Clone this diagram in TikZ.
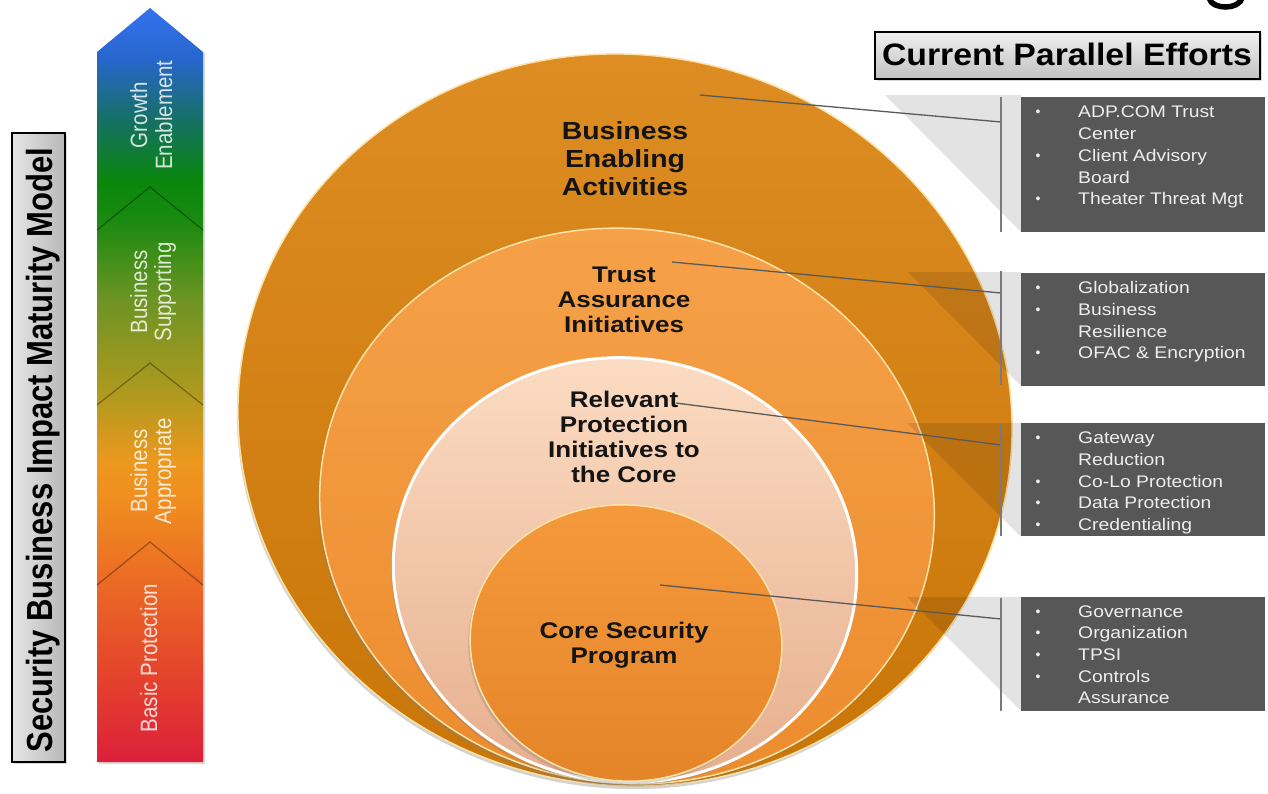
\documentclass[tikz,border=0pt]{standalone}
\usepackage{fontspec}
\setmainfont{Liberation Sans}
\usetikzlibrary{shadows}
\definecolor{ar1}{HTML}{DC1F3B}
\definecolor{ar2}{HTML}{E2392F}
\definecolor{ar3}{HTML}{EA6226}
\definecolor{ar4}{HTML}{F08E1F}
\definecolor{ar5}{HTML}{EC981E}
\definecolor{ar6}{HTML}{B49A1E}
\definecolor{ar7}{HTML}{6E9424}
\definecolor{ar8}{HTML}{1A8A10}
\definecolor{ar9}{HTML}{0A870C}
\definecolor{ar10}{HTML}{157064}
\definecolor{ar11}{HTML}{2866CC}
\definecolor{ar12}{HTML}{3472F0}
\definecolor{c1t}{HTML}{DE8E24}
\definecolor{c1b}{HTML}{C87406}
\definecolor{c2t}{HTML}{F6A24A}
\definecolor{c2b}{HTML}{EB8B2C}
\definecolor{c3t}{HTML}{FCDDC4}
\definecolor{c3b}{HTML}{E6AD8C}
\definecolor{c4t}{HTML}{F59A3C}
\definecolor{c4b}{HTML}{E48428}
\definecolor{rimy}{HTML}{FBE3A8}
\definecolor{boxfill}{HTML}{575757}
\definecolor{boxtext}{HTML}{EEEEEE}
\definecolor{connc}{HTML}{5A5A5A}
\definecolor{brkc}{HTML}{7A7A7A}
\pgfdeclareverticalshading{arrowshade}{100bp}{color(0bp)=(ar1); color(25bp)=(ar1); color(29.1bp)=(ar2); color(35.7bp)=(ar3); color(42.4bp)=(ar4); color(45bp)=(ar5); color(49bp)=(ar6); color(55.6bp)=(ar7); color(60.9bp)=(ar8); color(63.5bp)=(ar9); color(67.6bp)=(ar10); color(71.6bp)=(ar11); color(75bp)=(ar12); color(100bp)=(ar12)}
\begin{document}
\begin{tikzpicture}[x=1pt,y=-1pt,
  circA/.style={top color=c1t, bottom color=c1b, draw=rimy, line width=1.5pt,
    drop shadow={shadow xshift=-1pt, shadow yshift=-3pt, opacity=.35}},
  circB/.style={top color=c2t, bottom color=c2b, draw=rimy, line width=1.5pt,
    drop shadow={shadow xshift=-2pt, shadow yshift=-3pt, opacity=.3}},
  circC/.style={top color=c3t, bottom color=c3b, draw=white, line width=3pt,
    drop shadow={shadow xshift=-2pt, shadow yshift=-3pt, opacity=.3}},
  circD/.style={top color=c4t, bottom color=c4b, draw=rimy, line width=1.5pt,
    drop shadow={shadow xshift=-2pt, shadow yshift=-3pt, opacity=.3}},
  wedge/.style={fill=black, fill opacity=.11},
  conn/.style={draw=connc, line width=1.3pt},
  brk/.style={draw=brkc, line width=1.6pt},
  darkbox/.style={fill=boxfill, draw=none, anchor=north west, inner sep=0pt, outer sep=0pt},
  btx/.style={anchor=base west, font=\fontsize{16.8}{20}\selectfont, text=boxtext, inner sep=0pt, xscale=1.15},
  bul/.style={anchor=base, font=\fontsize{14}{14}\selectfont, text=boxtext, inner sep=0pt},
  ctA/.style={anchor=base, font=\bfseries\fontsize{24.7}{28}\selectfont, text=black!92, inner sep=0pt, xscale=1.15},
  ctB/.style={anchor=base, font=\bfseries\fontsize{22.6}{25}\selectfont, text=black!92, inner sep=0pt, xscale=1.15},
  arrtxt/.style={anchor=base, rotate=90, yscale=1.15, font=\fontsize{20.5}{24}\selectfont, text=white, text opacity=.82, inner sep=0pt},
  chev/.style={draw=black, draw opacity=.35, line width=1.2pt},
  sidebox/.style={draw=black, line width=1.5pt, left color=black!10, right color=black!28, inner sep=0pt,
    drop shadow={shadow xshift=2pt, shadow yshift=-2pt, opacity=.3}},
  sidetxt/.style={anchor=base, rotate=90, yscale=1.17, font=\bfseries\fontsize{31}{34}\selectfont, text=black, inner sep=0pt},
  titlebox/.style={draw=black, line width=1.5pt, top color=black!6, bottom color=black!24, inner sep=0pt,
    drop shadow={shadow xshift=2pt, shadow yshift=-2pt, opacity=.3}},
  titletxt/.style={anchor=base, font=\bfseries\fontsize{31}{34}\selectfont, text=black, inner sep=0pt, xscale=1.09}
]
\useasboundingbox (0,0) rectangle (1268,793);
\clip (0,0) rectangle (1268,793);
\fill[white] (0,0) rectangle (1268,793);

% cropped letter stroke at top right
\draw[line width=5.5pt, line cap=butt] (1209.5,-1) .. controls (1212,9) and (1239,11) .. (1242.5,-3);

% maturity arrow
\shade[shading=arrowshade, drop shadow={shadow xshift=2pt, shadow yshift=-2pt, opacity=.3}]
  (97,52) -- (150,8) -- (203,52) -- (203,762) -- (97,762) -- cycle;
\draw[chev] (97,230) -- (150,187) -- (203,230);
\draw[chev] (97,405) -- (150,363) -- (203,405);
\draw[chev] (97,585) -- (150,542) -- (203,585);
\node[arrtxt] (lg1) at (147,115) {Growth};
\node[arrtxt] (lg2) at (172,115) {Enablement};
\node[arrtxt] (ls1) at (147,292) {Business};
\node[arrtxt] (ls2) at (171,292) {Supporting};
\node[arrtxt] (la1) at (147,471) {Business};
\node[arrtxt] (la2) at (171,471) {Appropriate};
\node[arrtxt] (lb1) at (157,658) {Basic Protection};

% side label
\node[sidebox, minimum width=53pt, minimum height=629pt] (sbox) at (38.5,447.5) {};
\node[sidetxt] (stxt) at (52,450) {Security Business Impact Maturity Model};

% title
\node[titlebox, minimum width=385pt, minimum height=47pt] (tbox) at (1067.5,55.5) {};
\node[titletxt] (ttxt) at (1067,65) {Current Parallel Efforts};

% circles
\path[circA, rotate around={-12:(625,420)}] (625,420) ellipse [x radius=388, y radius=365];
\path[circB, rotate around={-9:(627,506)}] (627,506) ellipse [x radius=308, y radius=277];
\path[circC, rotate around={-7:(625,570)}] (625,570) ellipse [x radius=232, y radius=212];
\path[circD, rotate around={-5:(626,643)}] (626,643) ellipse [x radius=156, y radius=138];

% shadow wedges
\fill[wedge] (885,95) -- (1021,95) -- (1021,232) -- cycle;
\fill[wedge] (908,272) -- (1021,272) -- (1021,386) -- cycle;
\fill[wedge] (907,423) -- (1021,423) -- (1021,537) -- cycle;
\fill[wedge] (907,597) -- (1021,597) -- (1021,711) -- cycle;

% circle labels
\node[ctA] (e1) at (625,139) {Business};
\node[ctA] (e2) at (625,167) {Enabling};
\node[ctA] (e3) at (625,195) {Activities};
\node[ctB] (r1) at (624,282) {Trust};
\node[ctB] (r2) at (624,307) {Assurance};
\node[ctB] (r3) at (624,332) {Initiatives};
\node[ctB] (p1) at (624,407) {Relevant};
\node[ctB] (p2) at (624,432) {Protection};
\node[ctB] (p3) at (624,457) {Initiatives to};
\node[ctB] (p4) at (624,482) {the Core};
\node[ctB] (k1) at (624,638) {Core Security};
\node[ctB] (k2) at (624,663) {Program};

% connectors and brackets
\coordinate (c1a) at (700,95);  \coordinate (c1b) at (1001,122);
\coordinate (c2a) at (672,262); \coordinate (c2b) at (1001,293);
\coordinate (c3a) at (676,403); \coordinate (c3b) at (1001,445);
\coordinate (c4a) at (660,585); \coordinate (c4b) at (1001,619);
\draw[conn] (c1a) -- (c1b);
\draw[conn] (c2a) -- (c2b);
\draw[conn] (c3a) -- (c3b);
\draw[conn] (c4a) -- (c4b);
\coordinate (k1t) at (1001,97);  \coordinate (k1b) at (1001,232);
\coordinate (k2t) at (1001,271); \coordinate (k2b) at (1001,385);
\coordinate (k3t) at (1001,424); \coordinate (k3b) at (1001,536);
\coordinate (k4t) at (1001,598); \coordinate (k4b) at (1001,711);
\draw[brk] (k1t) -- (k1b);
\draw[brk] (k2t) -- (k2b);
\draw[brk] (k3t) -- (k3b);
\draw[brk] (k4t) -- (k4b);

% dark boxes
\node[darkbox, minimum width=244pt, minimum height=135pt] (box1) at (1021,97) {};
\node[darkbox, minimum width=244pt, minimum height=113pt] (box2) at (1021,273) {};
\node[darkbox, minimum width=244pt, minimum height=113pt] (box3) at (1021,423) {};
\node[darkbox, minimum width=244pt, minimum height=114pt] (box4) at (1021,597) {};

% box 1
\node[bul] (u1a) at (1038,116) {•};
\node[btx] (t1a) at (1078,117) {ADP.COM Trust};
\node[btx] (t1b) at (1078,139) {Center};
\node[bul] (u1c) at (1038,160) {•};
\node[btx] (t1c) at (1078,161) {Client Advisory};
\node[btx] (t1d) at (1078,183) {Board};
\node[bul] (u1e) at (1038,203) {•};
\node[btx] (t1e) at (1078,204) {Theater Threat Mgt};
% box 2
\node[bul] (u2a) at (1038,292) {•};
\node[btx] (t2a) at (1078,293) {Globalization};
\node[bul] (u2b) at (1038,314) {•};
\node[btx] (t2b) at (1078,315) {Business};
\node[btx] (t2c) at (1078,337) {Resilience};
\node[bul] (u2d) at (1038,357) {•};
\node[btx] (t2d) at (1078,358) {OFAC \& Encryption};
% box 3
\node[bul] (u3a) at (1038,442) {•};
\node[btx] (t3a) at (1078,443) {Gateway};
\node[btx] (t3b) at (1078,465) {Reduction};
\node[bul] (u3c) at (1038,486) {•};
\node[btx] (t3c) at (1078,487) {Co-Lo Protection};
\node[bul] (u3d) at (1038,507) {•};
\node[btx] (t3d) at (1078,508) {Data Protection};
\node[bul] (u3e) at (1038,529) {•};
\node[btx] (t3e) at (1078,530) {Credentialing};
% box 4
\node[bul] (u4a) at (1038,616) {•};
\node[btx] (t4a) at (1078,617) {Governance};
\node[bul] (u4b) at (1038,637) {•};
\node[btx] (t4b) at (1078,638) {Organization};
\node[bul] (u4c) at (1038,659) {•};
\node[btx] (t4c) at (1078,660) {TPSI};
\node[bul] (u4d) at (1038,681) {•};
\node[btx] (t4d) at (1078,682) {Controls};
\node[btx] (t4e) at (1078,703) {Assurance};
\end{tikzpicture}
\end{document}
